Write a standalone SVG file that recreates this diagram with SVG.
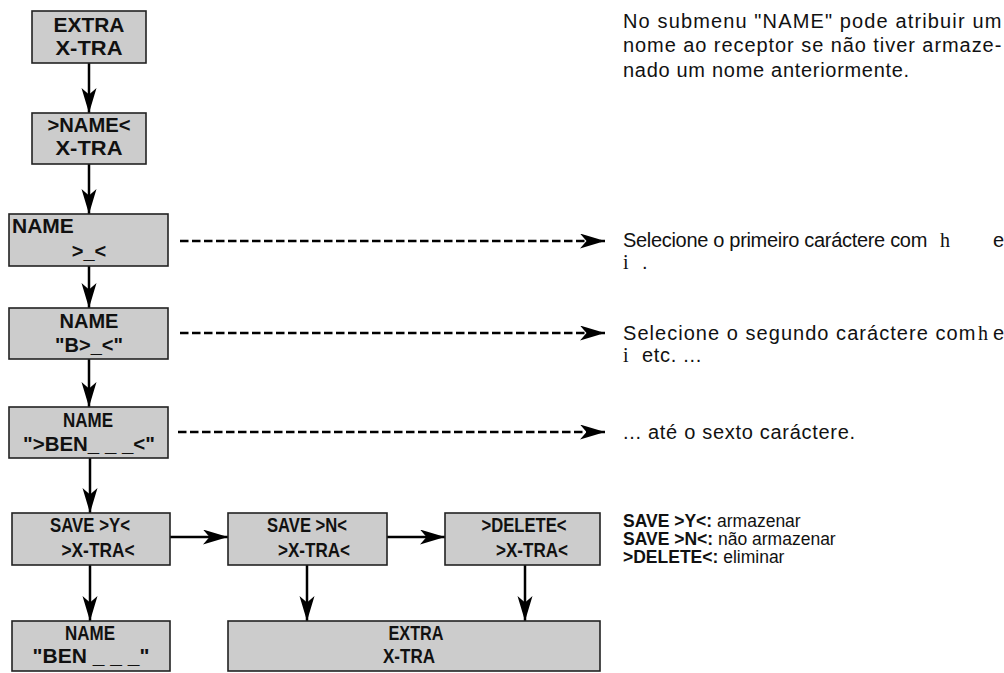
<svg xmlns="http://www.w3.org/2000/svg" width="1004" height="673" viewBox="0 0 1004 673">
<style>
.box{fill:#cccccc;stroke:#222;stroke-width:1.6}
.bt{font-family:"Liberation Sans",Arial,sans-serif;font-weight:bold;fill:#111;text-anchor:middle}
.f21{font-size:21px}
.f20{font-size:20px}
.f19{font-size:19.5px}
.ln{stroke:#000;stroke-width:2.5;fill:none}
.dash{stroke:#000;stroke-width:2.6;fill:none;stroke-dasharray:8.5 3.5}
.rt{font-family:"Liberation Sans",Arial,sans-serif;font-size:20px;letter-spacing:0.7px;fill:#111}
.rs{font-family:"Liberation Serif","Times New Roman",serif;font-size:20px;fill:#111}
.rb{font-family:"Liberation Sans",Arial,sans-serif;font-size:17.5px;fill:#111}
</style>
<defs>
<marker id="ah" markerUnits="userSpaceOnUse" markerWidth="26" markerHeight="16" refX="25" refY="7.5" orient="auto" viewBox="0 0 26 16">
<path d="M0,0 L25,7.5 L0,15 L6.5,7.5 z" fill="#000"/>
</marker>
</defs>
<rect width="1004" height="673" fill="#fff"/>
<g id="connectors">
<line class="ln" x1="89" y1="63" x2="89" y2="113" marker-end="url(#ah)"/>
<line class="ln" x1="89" y1="164" x2="89" y2="214" marker-end="url(#ah)"/>
<line class="ln" x1="89" y1="266" x2="89" y2="308" marker-end="url(#ah)"/>
<line class="ln" x1="89" y1="359" x2="89" y2="407" marker-end="url(#ah)"/>
<line class="ln" x1="90" y1="458" x2="90" y2="513" marker-end="url(#ah)"/>
<line class="ln" x1="90" y1="565" x2="90" y2="621" marker-end="url(#ah)"/>
<line class="ln" x1="307" y1="565" x2="307" y2="621" marker-end="url(#ah)"/>
<line class="ln" x1="525" y1="565" x2="525" y2="621" marker-end="url(#ah)"/>
<line class="ln" x1="170" y1="537" x2="228" y2="537" marker-end="url(#ah)"/>
<line class="ln" x1="387" y1="537" x2="445" y2="537" marker-end="url(#ah)"/>
<line class="dash" x1="180" y1="241" x2="605" y2="241" marker-end="url(#ah)"/>
<line class="dash" x1="180" y1="333" x2="605" y2="333" marker-end="url(#ah)"/>
<line class="dash" x1="178" y1="432" x2="605" y2="432" marker-end="url(#ah)"/>
</g>
<g id="n1"><rect class="box" x="32" y="11" width="114" height="52"/>
<text class="bt f21" x="89" y="32" textLength="71" lengthAdjust="spacingAndGlyphs">EXTRA</text><text class="bt f21" x="89" y="55" textLength="67" lengthAdjust="spacingAndGlyphs">X-TRA</text></g>
<g id="n2"><rect class="box" x="32" y="113" width="114" height="51"/>
<text class="bt f21" x="89" y="132" textLength="83" lengthAdjust="spacingAndGlyphs">&gt;NAME&lt;</text><text class="bt f21" x="89" y="155" textLength="67" lengthAdjust="spacingAndGlyphs">X-TRA</text></g>
<g id="n3"><rect class="box" x="9" y="214" width="159" height="52"/>
<text class="bt f21" x="12" y="233" style="text-anchor:start">NAME</text><text class="bt f20" x="89" y="258">&gt;_&lt;</text></g>
<g id="n4"><rect class="box" x="9" y="308" width="159" height="51"/>
<text class="bt f20" x="89" y="328">NAME</text><text class="bt f20" x="89" y="352">"B&gt;_&lt;"</text></g>
<g id="n5"><rect class="box" x="9" y="407" width="159" height="51"/>
<text class="bt f19" x="88" y="427" textLength="50" lengthAdjust="spacingAndGlyphs">NAME</text><text class="bt f20" x="89" y="451" textLength="132" lengthAdjust="spacingAndGlyphs">"&gt;BEN_ _ _&lt;"</text></g>
<g id="n6"><rect class="box" x="12" y="513" width="158" height="52"/>
<text class="bt f19" x="90" y="532" textLength="80" lengthAdjust="spacingAndGlyphs">SAVE &gt;Y&lt;</text><text class="bt f19" x="98" y="557" textLength="73" lengthAdjust="spacingAndGlyphs">&gt;X-TRA&lt;</text></g>
<g id="n7"><rect class="box" x="228" y="513" width="159" height="52"/>
<text class="bt f19" x="307" y="532" textLength="80" lengthAdjust="spacingAndGlyphs">SAVE &gt;N&lt;</text><text class="bt f19" x="314" y="557" textLength="72" lengthAdjust="spacingAndGlyphs">&gt;X-TRA&lt;</text></g>
<g id="n8"><rect class="box" x="445" y="513" width="155" height="52"/>
<text class="bt f19" x="524" y="532" textLength="85" lengthAdjust="spacingAndGlyphs">&gt;DELETE&lt;</text><text class="bt f19" x="532" y="557" textLength="72" lengthAdjust="spacingAndGlyphs">&gt;X-TRA&lt;</text></g>
<g id="n9"><rect class="box" x="12" y="621" width="158" height="50"/>
<text class="bt f20" x="90" y="640" textLength="50" lengthAdjust="spacingAndGlyphs">NAME</text><text class="bt f21" x="91" y="663">"BEN _ _ _"</text></g>
<g id="n10"><rect class="box" x="228" y="621" width="372" height="50"/>
<text class="bt f20" x="416" y="640" textLength="55" lengthAdjust="spacingAndGlyphs">EXTRA</text><text class="bt f20" x="409" y="663" textLength="52" lengthAdjust="spacingAndGlyphs">X-TRA</text></g>
<g id="notes">
<text class="rt" x="623" y="28" textLength="379" lengthAdjust="spacing">No submenu "NAME" pode atribuir um</text>
<text class="rt" x="623" y="52" textLength="379" lengthAdjust="spacing">nome ao receptor se não tiver armaze-</text>
<text class="rt" x="623" y="77">nado um nome anteriormente.</text>
<text class="rt" x="623" y="247" textLength="305" lengthAdjust="spacing">Selecione o primeiro caráctere com</text>
<text class="rs" x="940" y="247">h</text><text class="rt" x="993" y="247">e</text>
<text class="rs" x="623" y="269">i</text><text class="rt" x="642" y="269">.</text>
<text class="rt" x="623" y="340" textLength="353" lengthAdjust="spacing">Selecione o segundo caráctere com</text>
<text class="rs" x="978" y="340">h</text><text class="rt" x="993" y="340">e</text>
<text class="rs" x="623" y="362">i</text><text class="rt" x="642" y="362">etc. ...</text>
<text class="rt" x="623" y="439">... até o sexto caráctere.</text>
<text class="rb" x="623" y="527"><tspan font-weight="bold">SAVE &gt;Y&lt;:</tspan> armazenar</text>
<text class="rb" x="623" y="545"><tspan font-weight="bold">SAVE &gt;N&lt;:</tspan> não armazenar</text>
<text class="rb" x="623" y="563"><tspan font-weight="bold">&gt;DELETE&lt;:</tspan> eliminar</text>
</g>
</svg>
